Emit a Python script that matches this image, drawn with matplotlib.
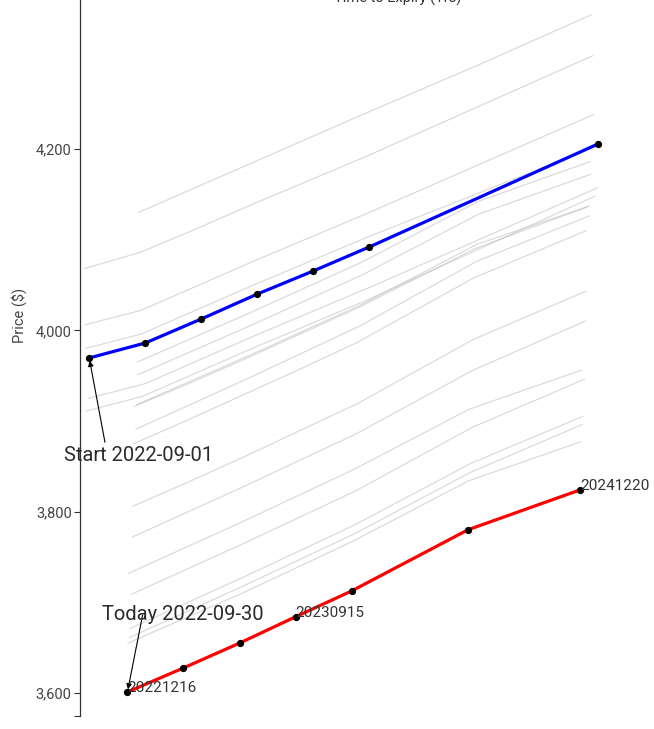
import pandas as pd
import matplotlib.pyplot as plt
from matplotlib.ticker import StrMethodFormatter

plt.rcParams['font.family'] = ['Roboto', 'DejaVu Sans']

# ES futures term structure, Sep 2022 (contract expiries and daily settles)
expiries = ["2022-09-16", "2022-12-16", "2023-03-17", "2023-06-16",
            "2023-09-15", "2023-12-15", "2024-06-21", "2024-12-20"]

trade_dates = ["2022-09-01", "2022-09-02", "2022-09-06", "2022-09-07", "2022-09-08",
               "2022-09-09", "2022-09-12", "2022-09-13", "2022-09-14", "2022-09-15",
               "2022-09-16", "2022-09-19", "2022-09-20", "2022-09-21", "2022-09-22",
               "2022-09-23", "2022-09-26", "2022-09-27", "2022-09-28", "2022-09-29",
               "2022-09-30"]

N = None
settles = [
    [3969.5, 3986.0, 4012.5, 4040.0, 4065.5, 4092.0, N, 4205.5],
    [3925.0, 3941.0, 3968.0, 3995.0, 4021.0, 4047.0, N, 4157.0],
    [3911.0, 3927.0, 3954.0, 3981.0, 4007.0, 4033.0, N, 4148.0],
    [3980.0, 3996.0, 4023.0, 4050.0, 4076.0, 4102.0, N, 4202.0],
    [4006.0, 4022.0, 4049.0, 4076.0, 4102.0, 4128.0, N, 4238.0],
    [4068.0, 4086.0, 4112.0, 4139.0, 4165.0, 4191.0, N, 4303.0],
    [N, 4130.0, 4157.0, 4184.0, 4211.0, 4238.0, 4293.0, 4348.0],
    [N, 3951.0, 3978.0, 4005.0, 4033.0, 4061.0, 4128.0, 4172.0],
    [N, 3965.0, 3992.0, 4019.0, 4047.0, 4075.0, 4142.0, 4186.0],
    [N, 3918.0, 3945.0, 3972.0, 4000.0, 4028.0, 4095.0, 4137.0],
    [N, 3891.0, 3919.0, 3947.0, 3976.0, 4005.0, 4076.0, 4126.0],
    [N, 3916.0, 3942.0, 3969.0, 3997.0, 4025.0, 4090.0, 4136.0],
    [N, 3875.0, 3902.0, 3930.0, 3958.0, 3987.0, 4058.0, 4110.0],
    [N, 3806.0, 3833.0, 3861.0, 3890.0, 3919.0, 3990.0, 4043.0],
    [N, 3772.0, 3800.0, 3828.0, 3857.0, 3886.0, 3956.0, 4010.0],
    [N, 3709.0, 3737.0, 3765.0, 3794.0, 3823.0, 3893.0, 3946.0],
    [N, 3671.0, 3699.0, 3727.0, 3756.0, 3785.0, 3853.0, 3905.0],
    [N, 3661.0, 3689.0, 3717.0, 3746.0, 3775.0, 3843.0, 3896.0],
    [N, 3732.0, 3760.0, 3788.0, 3817.0, 3846.0, 3913.0, 3956.0],
    [N, 3655.0, 3682.0, 3709.0, 3738.0, 3767.0, 3834.0, 3877.0],
    [N, 3601.0, 3627.6, 3655.0, 3684.0, 3712.5, 3780.0, 3824.0],
]

labelled_expiries = ["2022-12-16", "2023-09-15", "2024-12-20"]


def curve(i):
    d = pd.Timestamp(trade_dates[i])
    xs, ys, exps = [], [], []
    for e, p in zip(expiries, settles[i]):
        if p is None:
            continue
        xs.append((pd.Timestamp(e) - d).days / 365)
        ys.append(p)
        exps.append(e)
    return xs, ys, exps


fig = plt.figure(figsize=(6.54, 7.29), dpi=100)
ax = fig.add_axes([80 / 654, 13 / 729, 562 / 654, 716 / 729])

# history in grey
for i in range(1, len(trade_dates) - 1):
    xs, ys, _ = curve(i)
    ax.plot(xs, ys, color='#b0b0b0', alpha=0.45, lw=0.9, zorder=1)

# start and today curves
xs0, ys0, _ = curve(0)
xs1, ys1, exps1 = curve(len(trade_dates) - 1)
ax.plot(xs0, ys0, color='#0000ff', lw=2.3, zorder=3)
ax.plot(xs1, ys1, color='#ff0000', lw=2.3, zorder=3)
ax.plot(xs0, ys0, 'o', color='black', ms=4.2, zorder=4)
ax.plot(xs1, ys1, 'o', color='black', ms=4.2, zorder=4)

for x, y, e in zip(xs1, ys1, exps1):
    if e in labelled_expiries:
        ax.annotate(e.replace('-', ''), xy=(x, y), xytext=(0, 0), textcoords='offset points',
                    ha='left', va='baseline', fontsize=11, color='#333333', zorder=5)

ax.annotate('Start ' + trade_dates[0], xy=(xs0[0], ys0[0]), xytext=(35.5, -70.5),
            textcoords='offset points', ha='center', va='center', fontsize=14.5,
            color='#2a2a2a',
            arrowprops=dict(arrowstyle='-|>', color='black', lw=0.8, mutation_scale=8,
                            relpos=(0.28, 1.0), shrinkA=1, shrinkB=2))
ax.annotate('Today ' + trade_dates[-1], xy=(xs1[0], ys1[0]), xytext=(40, 56),
            textcoords='offset points', ha='center', va='center', fontsize=14.5,
            color='#2a2a2a',
            arrowprops=dict(arrowstyle='-|>', color='black', lw=0.8, mutation_scale=8,
                            relpos=(0.25, 0.45), patchA=None, shrinkA=0, shrinkB=2))

ax.set_xlim(0, 2.5)
ax.set_ylim(3574.6, 4364.3)
ax.set_yticks([3600, 3800, 4000, 4200])
ax.set_yticks([3574.6], minor=True)
ax.yaxis.set_major_formatter(StrMethodFormatter('{x:,.0f}'))
ax.tick_params(axis='y', which='both', length=4.5, width=0.8, color='#333333',
               labelsize=10.5, labelcolor='#444444', pad=1.5)
ax.tick_params(axis='x', bottom=False, labelbottom=False)
for s in ['top', 'right', 'bottom']:
    ax.spines[s].set_visible(False)
ax.spines['left'].set_color('#333333')
ax.spines['left'].set_linewidth(0.9)

ax.set_ylabel('Price ($)', fontsize=10.5, color='#444444')
ax.yaxis.set_label_coords(-0.094, 0.56)

# x-axis title sits above the visible area, only its lower part shows
fig.text(398 / 654, 1 - 3 / 729, 'Time to Expiry (Yrs)', ha='center', va='baseline',
         fontsize=10.5, color='#333333')

fig.savefig('out.png', dpi=100)
